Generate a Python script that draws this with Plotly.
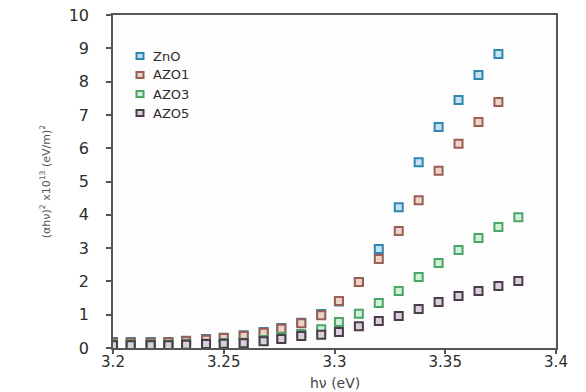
import plotly.graph_objects as go

# Photon energy (eV) and (alpha*h*nu)^2 in units of 1e13 (eV/m)^2
photon_energy = [3.200, 3.208, 3.217, 3.225, 3.233, 3.242, 3.250, 3.259, 3.268, 3.276, 3.285,
                 3.294, 3.302, 3.311, 3.320, 3.329, 3.338, 3.347, 3.356, 3.365, 3.374, 3.383]

zno = [0.18, 0.18, 0.18, 0.18, 0.22, 0.27, 0.31, 0.38, 0.48, 0.60, 0.76,
       1.02, 1.40, 1.98, 2.97, 4.23, 5.58, 6.64, 7.45, 8.20, 8.83]
azo1 = [0.16, 0.16, 0.16, 0.17, 0.20, 0.25, 0.30, 0.36, 0.46, 0.58, 0.74,
        0.98, 1.41, 1.98, 2.67, 3.51, 4.44, 5.32, 6.13, 6.79, 7.39]
azo3 = [0.10, 0.10, 0.10, 0.10, 0.12, 0.13, 0.15, 0.16, 0.24, 0.33, 0.42,
        0.56, 0.78, 1.03, 1.35, 1.71, 2.13, 2.55, 2.94, 3.30, 3.63, 3.93]
azo5 = [0.08, 0.08, 0.08, 0.08, 0.10, 0.12, 0.13, 0.14, 0.20, 0.27, 0.36,
        0.40, 0.48, 0.65, 0.81, 0.96, 1.17, 1.38, 1.56, 1.71, 1.86, 2.01]

series_names = ["ZnO", "AZO1", "AZO3", "AZO5"]
series_values = [zno, azo1, azo3, azo5]
edge_colors = ["#2f86ad", "#9a5e52", "#4aa566", "#4a3c4a"]
fill_colors = ["#c4e2ef", "#ecd3c9", "#d2efda", "#d9d0d9"]

x_ticks = [3.2, 3.25, 3.3, 3.35, 3.4]
x_tick_text = ["3.2", "3.25", "3.3", "3.35", "3.4"]
y_ticks = list(range(0, 11))

FONT = "DejaVu Sans"
TEXT = "#2c2c2c"

fig = go.Figure()
for name, vals, ec, fc in zip(series_names, series_values, edge_colors, fill_colors):
    fig.add_trace(go.Scatter(
        x=photon_energy[:len(vals)], y=vals, mode="markers", name=name,
        marker=dict(symbol="square", size=8, color=fc, line=dict(color=ec, width=2)),
        showlegend=False,
    ))

ML, MR, MT, MB = 113, 30, 15, 44
W, H = 586, 392
pw, ph = W - ML - MR, H - MT - MB

# Hand-built legend in the upper-left corner of the plot area
legend_rows_px = [56, 75, 94, 113]
for name, ec, fc, py in zip(series_names, edge_colors, fill_colors, legend_rows_px):
    yp = 1 - (py - MT) / ph
    fig.add_shape(type="rect", xref="paper", yref="paper",
                  xsizemode="pixel", ysizemode="pixel",
                  xanchor=(140 - ML) / pw, yanchor=yp,
                  x0=-3.5, x1=3.5, y0=-3, y1=3,
                  fillcolor=fc, line=dict(color=ec, width=2))
    fig.add_annotation(xref="paper", yref="paper", x=(151 - ML) / pw, y=yp,
                       xanchor="left", yanchor="middle", showarrow=False,
                       text=name, font=dict(family=FONT, size=13, color=TEXT))

# x-axis title placed under the tick labels
fig.add_annotation(xref="paper", yref="paper", x=0.5, y=1 - (383 - MT) / ph,
                   xanchor="center", yanchor="middle", showarrow=False,
                   text="hν (eV)", font=dict(family=FONT, size=14, color="#444"))

fig.update_layout(
    width=W, height=H,
    margin=dict(l=ML, r=MR, t=MT, b=MB),
    paper_bgcolor="white", plot_bgcolor="#fdfdfd",
    font=dict(family=FONT, color=TEXT),
)
fig.update_xaxes(
    range=[3.2, 3.4], tickvals=x_ticks, ticktext=x_tick_text,
    automargin=False,
    showgrid=False, zeroline=False,
    showline=True, linecolor="#555", linewidth=1.5, mirror=True,
    ticks="outside", ticklen=4, tickcolor="#555", tickwidth=1.5,
    tickfont=dict(family=FONT, size=15, color=TEXT),
    ticklabelstandoff=-5,
)
fig.update_yaxes(
    range=[0, 10], tickvals=y_ticks,
    automargin=False,
    showgrid=False, zeroline=False,
    showline=True, linecolor="#555", linewidth=1.5, mirror=True,
    ticks="outside", ticklen=5, tickcolor="#555", tickwidth=1.5,
    tickfont=dict(family=FONT, size=16, color=TEXT),
    ticklabelstandoff=14,
    title=dict(text="(αhν)<sup>2</sup> x10<sup>13</sup> (eV/m)<sup>2</sup>",
               font=dict(family=FONT, size=11, color="#555"), standoff=16),
)

fig.write_html("out.html")
